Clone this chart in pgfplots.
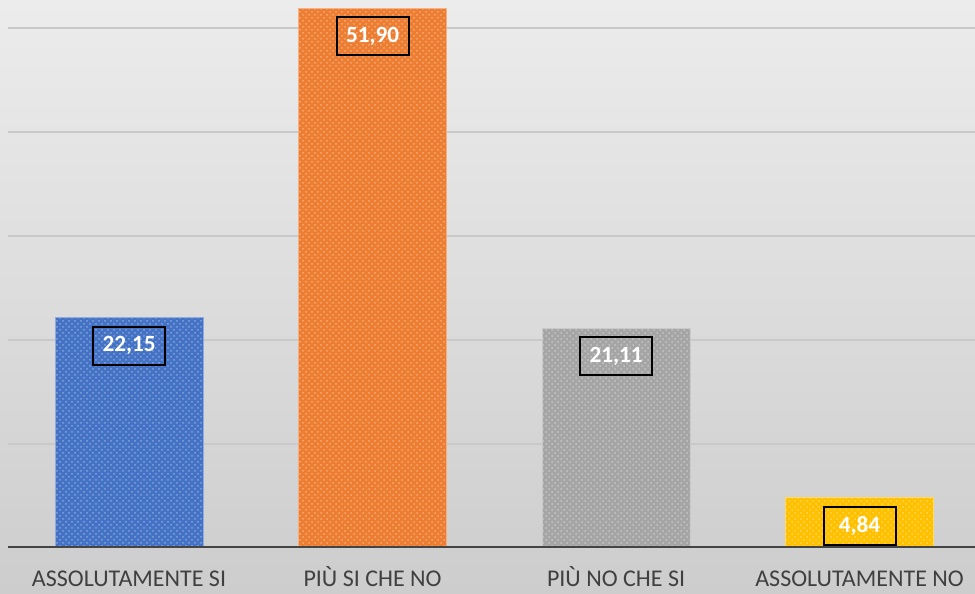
\documentclass[border=0pt]{standalone}
\usepackage{pgfplots}
\pgfplotsset{compat=1.18}
\usepackage{fontspec}
\setmainfont{Carlito}
\usetikzlibrary{patterns}
\definecolor{cblue}{HTML}{4472C4}
\definecolor{corange}{HTML}{ED7D31}
\definecolor{cgray}{HTML}{A5A5A5}
\definecolor{cyellow}{HTML}{FFC000}
\definecolor{bgtop}{HTML}{ECECEC}
\definecolor{bgbot}{HTML}{CDCDCD}
\definecolor{gridc}{HTML}{C9C9C9}
\definecolor{axc}{HTML}{444444}
\definecolor{lblc}{HTML}{404040}
\begin{document}
\begin{tikzpicture}[x=1pt,y=1pt]
\shade[top color=bgtop, bottom color=bgbot] (0,0) rectangle (487.5,297);
\useasboundingbox (0,0) rectangle (487.5,297);
\begin{axis}[
at={(4pt,23pt)}, anchor=south west,
scale only axis,
width=483.5pt, height=274pt,
xmin=-0.497, xmax=3.474,
ymin=0, ymax=52.7,
axis line style={draw=none},
ytick={10,20,30,40,50},
yticklabels={},
ymajorgrids=true,
grid style={gridc, line width=1pt},
major tick length=0pt,
xtick={0,1,2,3},
xticklabels={ASSOLUTAMENTE SI, PIÙ SI CHE NO, PIÙ NO CHE SI, ASSOLUTAMENTE NO},
xticklabel style={font=\fontsize{12}{14}\selectfont, text=lblc, anchor=base, yshift=-19.5pt},
ybar, bar width=74pt, bar shift=0pt,
point meta=explicit symbolic,
nodes near coords,
every node near coord/.append style={font=\fontsize{11.6}{13}\bfseries\selectfont, text=white, draw=black, line width=1pt, minimum width=36pt, minimum height=19pt, inner sep=0pt, anchor=north, yshift=-4pt},
]
\addplot[fill=cblue, draw=cblue!60!white, line width=0.4pt, postaction={pattern=crosshatch dots, pattern color=white!35!cblue}] coordinates {(0,22.15) [22,15]};
\addplot[fill=corange, draw=corange!60!white, line width=0.4pt, postaction={pattern=crosshatch dots, pattern color=white!35!corange}] coordinates {(1,51.90) [51,90]};
\addplot[fill=cgray, draw=cgray!60!white, line width=0.4pt, postaction={pattern=crosshatch dots, pattern color=white!35!cgray}] coordinates {(2,21.11) [21,11]};
\addplot[fill=cyellow, draw=cyellow!60!white, line width=0.4pt, postaction={pattern=crosshatch dots, pattern color=white!35!cyellow}] coordinates {(3,4.84) [4,84]};
\draw[axc, line width=2pt] (rel axis cs:0,0) -- (rel axis cs:1,0);
\end{axis}
\end{tikzpicture}
\end{document}
